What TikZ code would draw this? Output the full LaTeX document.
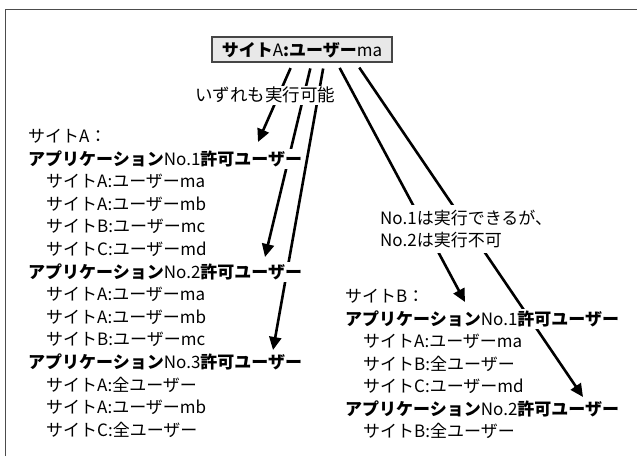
\documentclass[tikz,border=0pt]{standalone}
\usepackage{fontspec}
\setmainfont{Noto Sans CJK JP}
\usetikzlibrary{arrows.meta}
\begin{document}
\begin{tikzpicture}[x=1pt,y=-1pt,
  txt/.style={anchor=west, inner xsep=1pt, inner ysep=1.5pt, fill=white,
    text height=15pt, text depth=2pt, font=\fontsize{17}{20}\selectfont},
  topbox/.style={draw=gray!55!black, line width=1.2pt, fill=gray!18,
    minimum width=180pt, minimum height=25pt, inner sep=0pt,
    text height=15pt, text depth=2pt, font=\fontsize{17}{20}\selectfont},
  arr/.style={line width=2.6pt, -{Triangle[length=13pt,width=12pt]}, shorten <=6pt},
  frame/.style={draw=gray!60!black, line width=1.5pt}]
\useasboundingbox (0,0) rectangle (637,456);
\draw[frame] (5.5,456) -- (5.5,9.5) -- (637,9.5);

\node[topbox] (top) at (302,49.5) {\textbf{サイト}A\textbf{:ユーザー}ma};

\coordinate (t1) at (258,142);
\coordinate (t2) at (265,257);
\coordinate (t3) at (273,350);
\coordinate (t4) at (465,302);
\coordinate (t5) at (583,397);

% connectors first, so that the white-filled texts cover them
\draw[arr] ([xshift=-9pt]top.south) -- (t1);
\draw[arr] ([xshift=9.7pt]top.south) -- (t2);
\draw[arr] ([xshift=22.2pt]top.south) -- (t3);
\draw[arr] ([xshift=34.8pt]top.south) -- (t4);
\draw[arr] ([xshift=53.9pt]top.south) -- (t5);

% left block
\node[txt] (sA) at (27,136) {サイトA：};
\node[txt] (a1) at (27,158.6) {\textbf{アプリケーション}No.1\textbf{許可ユーザー}};
\node[txt] (a1u1) at (45,181.2) {サイトA:ユーザーma};
\node[txt] (a1u2) at (45,203.8) {サイトA:ユーザーmb};
\node[txt] (a1u3) at (45,226.4) {サイトB:ユーザーmc};
\node[txt] (a1u4) at (45,249) {サイトC:ユーザーmd};
\node[txt] (a2) at (27,271.6) {\textbf{アプリケーション}No.2\textbf{許可ユーザー}};
\node[txt] (a2u1) at (45,294.2) {サイトA:ユーザーma};
\node[txt] (a2u2) at (45,316.8) {サイトA:ユーザーmb};
\node[txt] (a2u3) at (45,339.4) {サイトB:ユーザーmc};
\node[txt] (a3) at (27,362) {\textbf{アプリケーション}No.3\textbf{許可ユーザー}};
\node[txt] (a3u1) at (45,384.6) {サイトA:全ユーザー};
\node[txt] (a3u2) at (45,407.2) {サイトA:ユーザーmb};
\node[txt] (a3u3) at (45,429.8) {サイトC:全ユーザー};

% right block
\node[txt] (sB) at (344,296) {サイトB：};
\node[txt] (b1) at (344,318.5) {\textbf{アプリケーション}No.1\textbf{許可ユーザー}};
\node[txt] (b1u1) at (362,341) {サイトA:ユーザーma};
\node[txt] (b1u2) at (362,363.5) {サイトB:全ユーザー};
\node[txt] (b1u3) at (362,386) {サイトC:ユーザーmd};
\node[txt] (b2) at (344,408.5) {\textbf{アプリケーション}No.2\textbf{許可ユーザー}};
\node[txt] (b2u1) at (362,431) {サイトB:全ユーザー};

% labels
\node[txt, inner ysep=1pt, font=\fontsize{17.5}{20}\selectfont] (l1) at (194,95) {いずれも実行可能};
\node[txt, inner ysep=5pt] (l2a) at (379,218) {No.1は実行できるが、};
\node[txt, inner ysep=4pt] (l2b) at (379,240) {No.2は実行不可};
\end{tikzpicture}
\end{document}
